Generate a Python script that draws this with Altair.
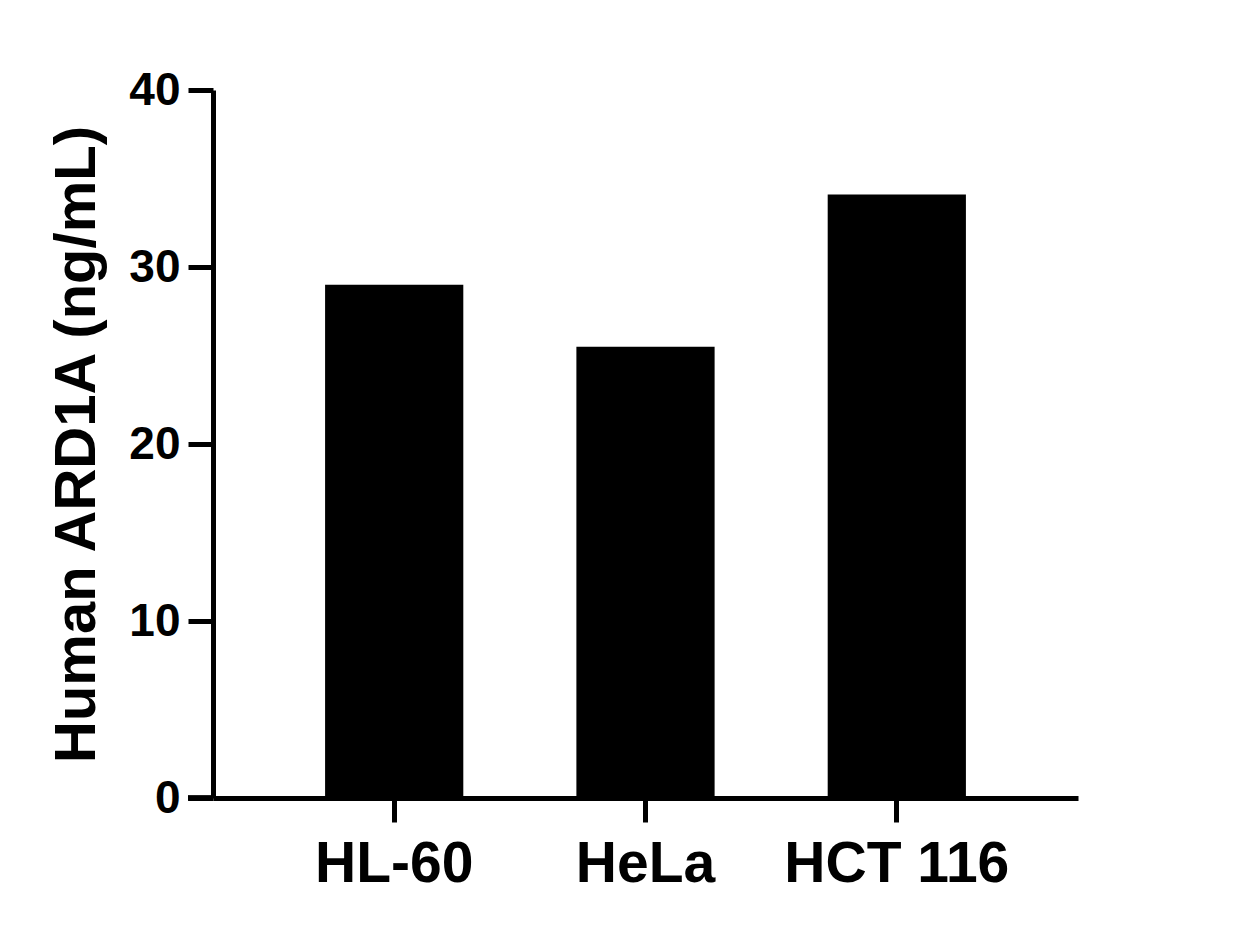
import altair as alt
import pandas as pd

categories = ["HL-60", "HeLa", "HCT 116"]
values = [29.0, 25.5, 34.1]
y_ticks = [0, 10, 20, 30, 40]

df = pd.DataFrame({"cell": categories, "value": values})
FONT = "Liberation Sans"

bars = alt.Chart(df).mark_bar(color="black").encode(
    x=alt.X("cell:N", sort=categories,
            scale=alt.Scale(paddingInner=0.45, paddingOuter=0.446),
            axis=alt.Axis(title=None, labelAngle=0, labelFontSize=57, labelFont=FONT,
                          labelFontWeight="bold", labelColor="black", labelPadding=14,
                          labelLimit=0,
                          tickSize=24, tickWidth=5, tickColor="black",
                          domainWidth=5, domainColor="black")),
    y=alt.Y("value:Q", scale=alt.Scale(domain=[0, 40], nice=False),
            axis=alt.Axis(title="Human ARD1A (ng/mL)", values=y_ticks, grid=False,
                          labelFontSize=46, labelFont=FONT, labelFontWeight="bold",
                          labelColor="black", labelPadding=8,
                          tickSize=25, tickWidth=5, tickColor="black",
                          domainWidth=5, domainColor="black",
                          titleFontSize=58, titleFont=FONT, titleFontWeight="bold",
                          titleColor="black", titlePadding=22)),
)

ext = alt.Chart(df).mark_rule(color="black", strokeWidth=5).encode(
    x=alt.value(-25), x2=alt.value(0), y=alt.datum(0)
)

chart = alt.layer(bars, ext).properties(
    width=865, height=708,
    autosize=alt.AutoSizeParams(type="none"),
    padding={"left": 205, "top": 82, "right": 150, "bottom": 120},
    background="white",
).configure_view(strokeWidth=0, stroke="white")

chart.save("out.html", embed_options={"renderer": "svg", "actions": False})
